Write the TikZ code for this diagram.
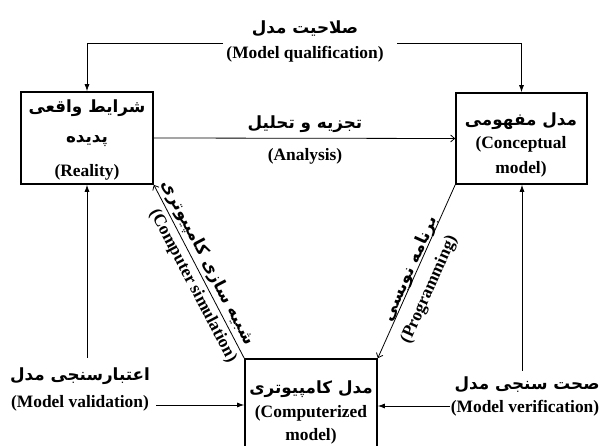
\documentclass[tikz,border=0pt]{standalone}
\usepackage{fontspec}
\setmainfont{Liberation Serif}
\newfontfamily\fafont[Script=Arabic]{DejaVu Sans}
\TeXXeTstate=1
\usetikzlibrary{arrows.meta}
\newcommand{\fatext}[1]{\beginR #1\endR}
\tikzset{
  box/.style={draw, line width=1.6pt, minimum width=132pt, inner sep=0pt},
  en/.style={font=\fontsize{17.4}{20}\selectfont\bfseries, inner sep=0pt},
  fa/.style={font=\fontsize{16.8}{20}\selectfont\fafont\bfseries, inner sep=0pt},
  conn/.style={line width=0.8pt},
  farr/.style={conn, -{Latex[length=7pt,width=5pt]}},
  oarr/.style={conn, -{Straight Barb[length=4pt,width=7pt]}}
}
\begin{document}
\begin{tikzpicture}[x=1pt,y=-1pt]
\useasboundingbox (0,0) rectangle (603,446);
\clip (0,0) rectangle (603,446);
% boxes
\node[box, minimum height=92pt] (rea) at (87,138) {};
\node[box, minimum height=91pt, minimum width=131pt] (con) at (521.5,138.5) {};
\node[box, minimum height=101pt] (cmp) at (311,409.5) {};
% box texts
\node[fa] (reaFa1) at (87,108) {\fatext{شرایط واقعی}};
\node[fa] (reaFa2) at (87,141) {\fatext{پدیده}};
\node[en] (reaEn) at (87,172) {(Reality)};
\node[fa] (conFa) at (521,121) {\fatext{مدل مفهومی}};
\node[en] (conEn1) at (521,144) {(Conceptual};
\node[en] (conEn2) at (521,169) {model)};
\node[fa] (cmpFa) at (311,389) {\fatext{مدل کامپیوتری}};
\node[en] (cmpEn1) at (311,413) {(Computerized};
\node[en] (cmpEn2) at (311,436) {model)};
% qualification
\node[fa] (qualFa) at (305,29) {\fatext{صلاحیت مدل}};
\node[en] (qualEn) at (305,54) {(Model qualification)};
\coordinate (qL) at (223,43);
\coordinate (qR) at (397,43);
\draw[farr] (qL) -| (rea.north);
\draw[farr] (qR) -| (con.north);
% analysis
\node[fa] (anaFa) at (305,124) {\fatext{تجزیه و تحلیل}};
\node[en] (anaEn) at (305,156) {(Analysis)};
\draw[oarr] (rea.east) -- (con.west);
% validation
\node[fa] (valFa) at (80,376) {\fatext{اعتبارسنجی مدل}};
\node[en] (valEn) at (80,403) {(Model validation)};
\coordinate (vA) at (87,358);
\coordinate (vC) at (156,405);
\draw[farr] (vA) -- (rea.south);
\draw[farr] (vC) -- (vC -| cmp.west);
% verification
\node[fa] (verFa) at (527,385) {\fatext{صحت سنجی مدل}};
\node[en] (verEn) at (525,408) {(Model verification)};
\coordinate (wA) at (522,371);
\coordinate (wC) at (450,406);
\draw[farr] (wA) -- (wA |- con.south);
\draw[farr] (wC) -- (wC -| cmp.east);
% diagonals
\draw[oarr] (cmp.north west) -- (rea.south east);
\draw[oarr] (con.south west) -- (cmp.north east);
\path (rea.south east) -- (cmp.north west)
  node[fa, pos=0.48, sloped, above=3pt] (simFa) {\fatext{شبیه سازی کامپیوتری}}
  node[en, pos=0.55, sloped, below=4pt] (simEn) {(Computer simulation)};
\path (cmp.north east) -- (con.south west)
  node[fa, pos=0.5, sloped, above=-2pt] (prgFa) {\fatext{برنامه نویسی}}
  node[en, pos=0.44, sloped, below=11pt] (prgEn) {(Programming)};
\end{tikzpicture}
\end{document}
